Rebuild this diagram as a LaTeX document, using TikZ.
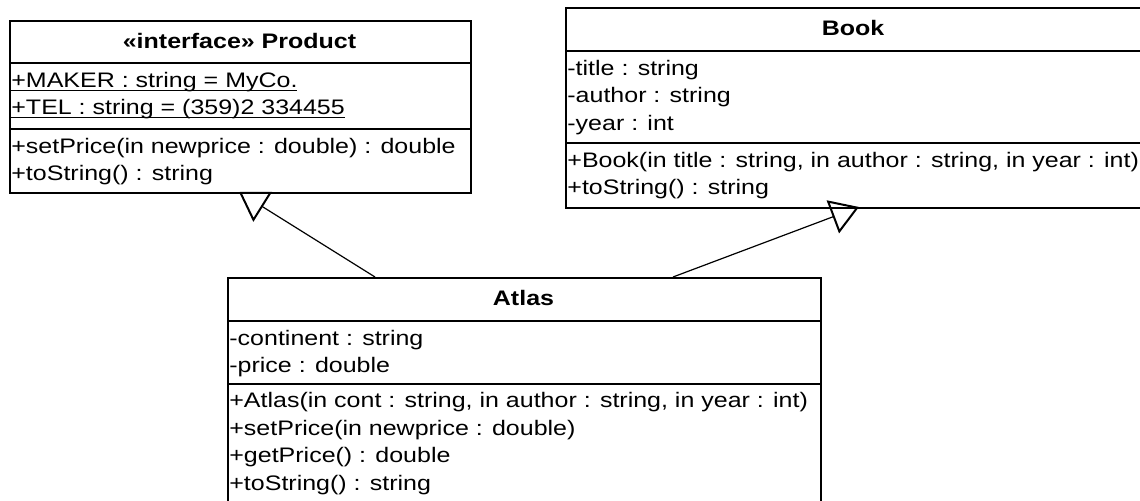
\documentclass[tikz,border=0pt]{standalone}
\usepackage{fontspec}
\setmainfont{Liberation Sans}[FakeStretch=1.19]
\usetikzlibrary{arrows.meta}

% static members: underline placed just under the baseline
\newcommand{\staticmember}[1]{\underline{\smash{#1}}}

\begin{document}
\begin{tikzpicture}[x=0.5pt,y=-0.5pt,
  classbox/.style={draw, line width=1pt, inner sep=0pt, anchor=north west},
  sep/.style={line width=1pt},
  title/.style={anchor=base, inner sep=0pt, font=\fontsize{10.5pt}{12pt}\selectfont\bfseries},
  member/.style={anchor=base west, inner sep=0pt, font=\fontsize{10.5pt}{12pt}\selectfont},
  gen/.style={line width=0.6pt, -{Triangle[open, length=14pt, width=17.5pt, line width=1pt]}}]

\fill[white] (0,0) rectangle (1140,501);
\useasboundingbox (0,0) rectangle (1140,501);
\clip (0,0) rectangle (1140,501);

% interface Product
\node[classbox, minimum width=230.5pt, minimum height=86pt] (product) at (9,20) {};
\draw[sep] (9,63) -- (470,63);
\draw[sep] (9,129) -- (470,129);
\node[title] (product-name) at (239.5,48.5) {«interface» Product};
\node[member] (product-a1) at (11,87.5) {\staticmember{+MAKER : string = MyCo.}};
\node[member] (product-a2) at (11,115) {\staticmember{+TEL : string = (359)2 334455}};
\node[member] (product-m1) at (11,153.5) {+setPrice(in newprice : double) : double};
\node[member] (product-m2) at (11,181) {+toString() : string};

% class Book
\node[classbox, minimum width=288.5pt, minimum height=100pt] (book) at (565,7) {};
\draw[sep] (565,51) -- (1142,51);
\draw[sep] (565,143) -- (1142,143);
\node[title] (book-name) at (853,36) {Book};
\node[member] (book-a1) at (567,75.5) {-title : string};
\node[member] (book-a2) at (567,103) {-author : string};
\node[member] (book-a3) at (567,130.5) {-year : int};
\node[member] (book-m1) at (567,167.5) {+Book(in title : string, in author : string, in year : int)};
\node[member] (book-m2) at (567,195) {+toString() : string};

% class Atlas
\node[classbox, minimum width=296.5pt, minimum height=114pt] (atlas) at (227,277) {};
\draw[sep] (227,321) -- (820,321);
\draw[sep] (227,384) -- (820,384);
\node[title] (atlas-name) at (523.5,306) {Atlas};
\node[member] (atlas-a1) at (229,346) {-continent : string};
\node[member] (atlas-a2) at (229,373) {-price : double};
\node[member] (atlas-m1) at (229,408) {+Atlas(in cont : string, in author : string, in year : int)};
\node[member] (atlas-m2) at (229,435.5) {+setPrice(in newprice : double)};
\node[member] (atlas-m3) at (229,463) {+getPrice() : double};
\node[member] (atlas-m4) at (229,490.5) {+toString() : string};

% generalization connectors
\coordinate (atlas-to-product) at (375,277);
\coordinate (product-tip) at (239,192);
\coordinate (atlas-to-book) at (673,277);
\coordinate (book-tip) at (859,207);
\draw[gen] (atlas-to-product) -- (product-tip);
\draw[gen] (atlas-to-book) -- (book-tip);
\end{tikzpicture}
\end{document}
